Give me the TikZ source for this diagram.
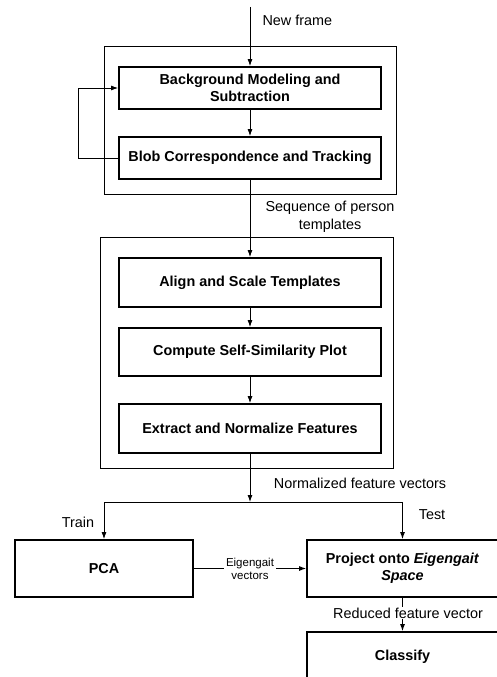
\documentclass[tikz,border=0pt]{standalone}
\usepackage{fontspec}
\setmainfont{Liberation Sans}
\usetikzlibrary{arrows.meta, positioning}

\tikzset{
  stage/.style = {draw, line width=1.8pt, minimum width=262pt, minimum height=42pt,
    align=center, font=\fontsize{14.4}{17}\selectfont\bfseries},
  group/.style = {draw, line width=0.9pt},
  flow/.style = {line width=0.9pt, -{Latex[length=7pt,width=5pt]}},
  note/.style = {font=\fontsize{14.4}{18}\selectfont, align=center},
  smallnote/.style = {font=\fontsize{11.5}{13}\selectfont, align=center, fill=white, inner sep=2pt}
}

\begin{document}
\begin{tikzpicture}[x=1pt, y=-1pt]
    \clip (0,0) rectangle (497,677);

    % tracking part
    \node[group, minimum width=292pt, minimum height=148pt] (tracking) at (250,120) {};
    \node[stage] (bgsub) at (250,88) {Background Modeling and\\Subtraction};
    \node[stage] (blob) at (250,158) {Blob Correspondence and Tracking};
    \coordinate (input) at (250,7);

    % feature part
    \node[group, minimum width=293pt, minimum height=231pt] (features) at (246.5,352.5) {};
    \node[stage, minimum height=49pt] (align) at (250,282.5) {Align and Scale Templates};
    \node[stage, minimum height=48pt] (simplot) at (250,352) {Compute Self-Similarity Plot};
    \node[stage, minimum height=49pt] (extract) at (250,428.5) {Extract and Normalize Features};
    \coordinate (split) at (250,502);

    % train / test
    \node[stage, minimum width=178pt, minimum height=57pt] (pca) at (104,568.5) {PCA};
    \node[stage, minimum width=191pt, minimum height=57pt] (project) at (402.5,568.5)
      {Project onto \textit{Eigengait}\\\textit{Space}};
    \node[stage, minimum width=191pt, minimum height=50pt] (classify) at (402.5,657) {Classify};

    \draw[flow] (input) -- (bgsub.north);
    \node[note, anchor=west] (newframe) at (259,20) {New frame};
    \draw[flow] (bgsub) -- (blob);
    \draw[flow] (blob.west) -- ++(-40,0) |- (bgsub.west);
    \draw[flow] (blob) -- (align);
    \node[note] (seqlabel) at (330,217) {Sequence of person\\templates};
    \draw[flow] (align) -- (simplot);
    \draw[flow] (simplot) -- (extract);
    \draw[flow] (extract) -- (split);
    \node[note] (normlabel) at (360,483) {Normalized feature vectors};
    \draw (pca.north |- split) -- (project.north |- split);
    \draw[flow] (pca.north |- split) -- (pca.north);
    \draw[flow] (project.north |- split) -- (project.north);
    \node[note] (trainlabel) at (78,522) {Train};
    \node[note] (testlabel) at (432,515) {Test};
    \draw[flow] (pca) -- node[smallnote] (eiglabel) {Eigengait\\vectors} (project);
    \draw[flow] (project) -- (classify);
    \node[note, fill=white, inner sep=1pt] (redlabel) at (408,613) {Reduced feature vector};
\end{tikzpicture}
\end{document}
